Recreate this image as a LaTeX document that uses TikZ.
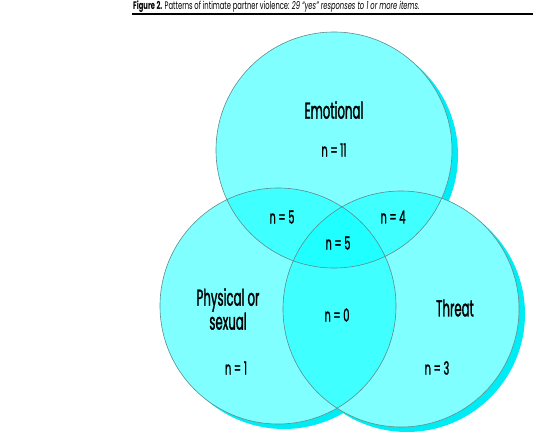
\documentclass[tikz,border=0pt]{standalone}
\usepackage{fontspec}
\setmainfont[FakeStretch=0.62]{Poppins}
\newfontfamily\labfont[FakeStretch=0.51,FakeBold=1.2]{Poppins}
\newfontfamily\cntfont[FakeStretch=0.55,FakeBold=1.2]{Poppins}
\definecolor{setcyan}{RGB}{0,255,255}
\definecolor{shadowcyan}{RGB}{0,236,244}
\definecolor{rimgray}{RGB}{95,140,140}
\begin{document}
\begin{tikzpicture}[x=1pt,y=-1pt,
  lab/.style={font=\labfont\fontsize{23}{22}\selectfont, inner sep=0pt, align=center},
  cnt/.style={font=\cntfont\fontsize{18}{18}\selectfont, inner sep=0pt},
  setfill/.style={fill=setcyan, fill opacity=0.5},
  rim/.style={draw=rimgray, line width=0.6pt}]
\useasboundingbox (0,0) rectangle (540,433);
\coordinate (cE) at (334,150);
\coordinate (cP) at (278,306);
\coordinate (cT) at (401,309);
% shadows
\foreach \c in {cE,cP,cT}
  \fill[shadowcyan] ([shift={(6,5)}]\c) circle[radius=118pt];
% white underlay of the union
\fill[white] (cE) circle[radius=118pt] (cP) circle[radius=118pt] (cT) circle[radius=118pt];
% translucent sets
\foreach \c in {cE,cP,cT}
  \fill[setfill] (\c) circle[radius=118pt];
\foreach \c in {cE,cP,cT}
  \draw[rim] (\c) circle[radius=118pt];
% labels
\node[lab] (emo) at (334,110) {Emotional};
\node[cnt] (n11) at (334,150) {n = 11};
\node[cnt] (nEP) at (282,217) {n = 5};
\node[cnt] (nET) at (393,217) {n = 4};
\node[cnt] (nEPT) at (338,243) {n = 5};
\node[lab] (phys) at (228,309) {Physical or\\sexual};
\node[cnt] (nPT) at (337,315) {n = 0};
\node[lab] (thr) at (455,308) {Threat};
\node[cnt] (nP) at (236,368) {n = 1};
\node[cnt] (nT) at (437,368) {n = 3};
% title
\node[anchor=base west, inner sep=0pt, font=\fontsize{10.9}{12}\selectfont] (title) at (133,10)
  {\textbf{Figure 2.} Patterns of intimate partner violence: \textit{29 “yes” responses to 1 or more items.}};
\coordinate (ruleL) at (132,14.5);
\coordinate (ruleR) at (533,14.5);
\draw[black, line width=2pt] (ruleL) -- (ruleR);
\end{tikzpicture}
\end{document}
